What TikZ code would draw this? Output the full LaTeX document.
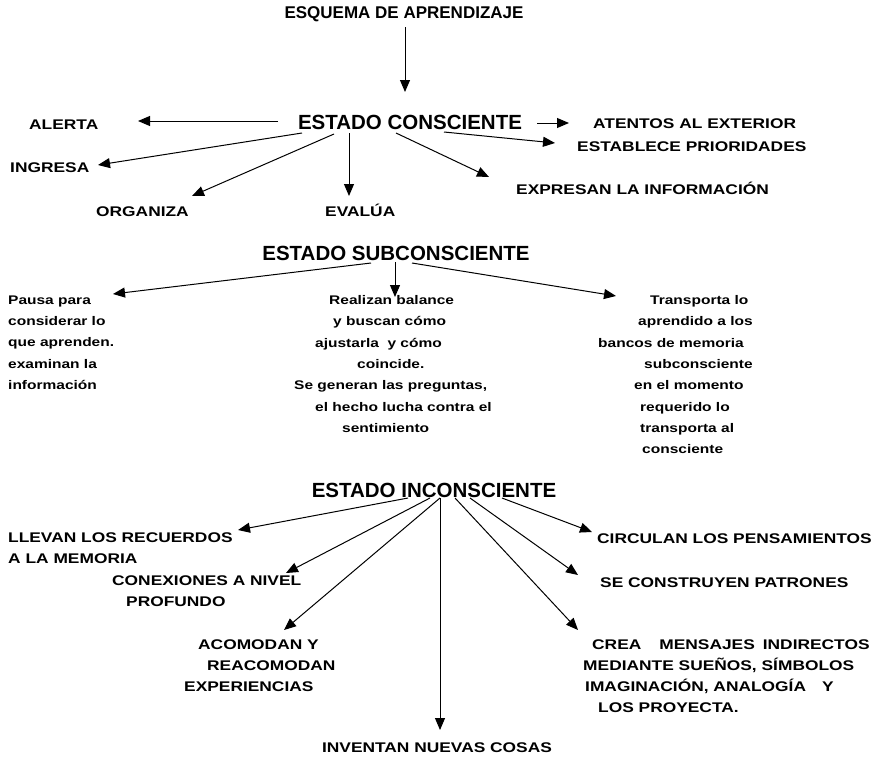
\documentclass[tikz,border=0pt]{standalone}
\usepackage{fontspec}
\setmainfont{Liberation Sans}
\newfontfamily\widefont[FakeStretch=1.24]{Liberation Sans}
\usetikzlibrary{arrows.meta}
\begin{document}
\begin{tikzpicture}[x=1pt,y=-1pt,
  ttl/.style={font=\bfseries\fontsize{17}{20}\selectfont, inner sep=0pt},
  head/.style={font=\bfseries\fontsize{20.5}{24}\selectfont, inner sep=0pt},
  lab/.style={font=\widefont\bfseries\fontsize{14}{21}\selectfont, inner sep=0pt, anchor=base west},
  labblock/.style={font=\widefont\bfseries\fontsize{14}{21}\selectfont, inner sep=0pt, anchor=north west, align=left},
  body/.style={font=\widefont\bfseries\fontsize{12.5}{21.3}\selectfont, inner sep=0pt, anchor=north west, align=left},
  arr/.style={-{Triangle[length=12pt,width=10pt]}, line width=1pt}]
\useasboundingbox[fill=white] (0,0) rectangle (874,758);

% ---------- headings ----------
\node[ttl]  (title) at (404,14)  {ESQUEMA DE APRENDIZAJE};
\node[head] (cons)  at (410,122) {ESTADO CONSCIENTE};
\node[head] (subc)  at (396,253) {ESTADO SUBCONSCIENTE};
\node[head] (inc)   at (434,490) {ESTADO INCONSCIENTE};

% ---------- conscious labels ----------
\node[lab] (alerta)    at (29,129)  {ALERTA};
\node[lab] (atentos)   at (593,128) {ATENTOS AL EXTERIOR};
\node[lab] (establece) at (577,151) {ESTABLECE PRIORIDADES};
\node[lab] (ingresa)   at (10,172)  {INGRESA};
\node[lab] (organiza)  at (96,216)  {ORGANIZA};
\node[lab] (evalua)    at (325,216) {EVALÚA};
\node[lab] (expresan)  at (516,194) {EXPRESAN LA INFORMACIÓN};

% ---------- subconscious texts ----------
\node[body] (pausa) at (8,295.3) {Pausa para\\considerar lo\\que aprenden.\\examinan la\\información};
\node[body] (realizan) at (294,295.3) {%
\hspace*{35pt}Realizan balance\\
\hspace*{39pt}y buscan cómo\\
\hspace*{21pt}ajustarla~ y cómo\\
\hspace*{63pt}coincide.\\
Se generan las preguntas,\\
\hspace*{21pt}el hecho lucha contra el\\
\hspace*{48pt}sentimiento};
\node[body] (transporta) at (598,295.3) {%
\hspace*{52pt}Transporta lo\\
\hspace*{40pt}aprendido a los\\
bancos de memoria\\
\hspace*{46pt}subconsciente\\
\hspace*{36pt}en el momento\\
\hspace*{42pt}requerido lo\\
\hspace*{42pt}transporta al\\
\hspace*{44pt}consciente};

% ---------- unconscious labels ----------
\node[labblock] (llevan) at (8,533) {LLEVAN LOS RECUERDOS\\A LA MEMORIA};
\node[labblock] (conex) at (112,576) {CONEXIONES A NIVEL\\\hspace*{14pt}PROFUNDO};
\node[labblock] (acomodan) at (184,640) {\hspace*{14pt}ACOMODAN Y\\\hspace*{23pt}REACOMODAN\\EXPERIENCIAS};
\node[lab,anchor=base] (inventan) at (437,752) {INVENTAN NUEVAS COSAS};
\node[lab] (circulan) at (597,543) {CIRCULAN LOS PENSAMIENTOS};
\node[lab] (secons) at (600,587) {SE CONSTRUYEN PATRONES};
\node[labblock] (crea) at (583,640) {\hspace*{9pt}CREA\hspace{18pt}MENSAJES\hspace{8pt}INDIRECTOS\\MEDIANTE SUEÑOS, SÍMBOLOS\\\hspace*{2pt}IMAGINACIÓN, ANALOGÍA\hspace{16pt}Y\\\hspace*{15pt}LOS PROYECTA.};

% ---------- connector end points ----------
\coordinate (t0) at (405,27);   \coordinate (t1) at (405,92);
\coordinate (c1s) at (278,121); \coordinate (c1e) at (138,121);
\coordinate (c2s) at (537,123); \coordinate (c2e) at (569,123);
\coordinate (c3s) at (444,132); \coordinate (c3e) at (555,143);
\coordinate (c4s) at (302,133); \coordinate (c4e) at (98,165);
\coordinate (c5s) at (334,134); \coordinate (c5e) at (192,196);
\coordinate (c6s) at (349,133); \coordinate (c6e) at (349,196);
\coordinate (c7s) at (396,133); \coordinate (c7e) at (489,177);
\coordinate (s1s) at (371,263); \coordinate (s1e) at (113,294);
\coordinate (s2s) at (395,262); \coordinate (s2e) at (395,297);
\coordinate (s3s) at (412,263); \coordinate (s3e) at (616,296);
\coordinate (i1s) at (408,498); \coordinate (i1e) at (238,530);
\coordinate (i2s) at (430,498); \coordinate (i2e) at (286,573);
\coordinate (i3s) at (440,498); \coordinate (i3e) at (284,630);
\coordinate (i4s) at (440,498); \coordinate (i4e) at (440,730);
\coordinate (i5s) at (455,498); \coordinate (i5e) at (578,630);
\coordinate (i6s) at (470,498); \coordinate (i6e) at (578,575);
\coordinate (i7s) at (502,498); \coordinate (i7e) at (592,532);

% ---------- connectors ----------
\draw[arr] (t0) -- (t1);
\foreach \n in {c1,c2,c3,c4,c5,c6,c7,s1,s2,s3,i1,i2,i3,i4,i5,i6,i7}
  \draw[arr] (\n s) -- (\n e);
\end{tikzpicture}
\end{document}
